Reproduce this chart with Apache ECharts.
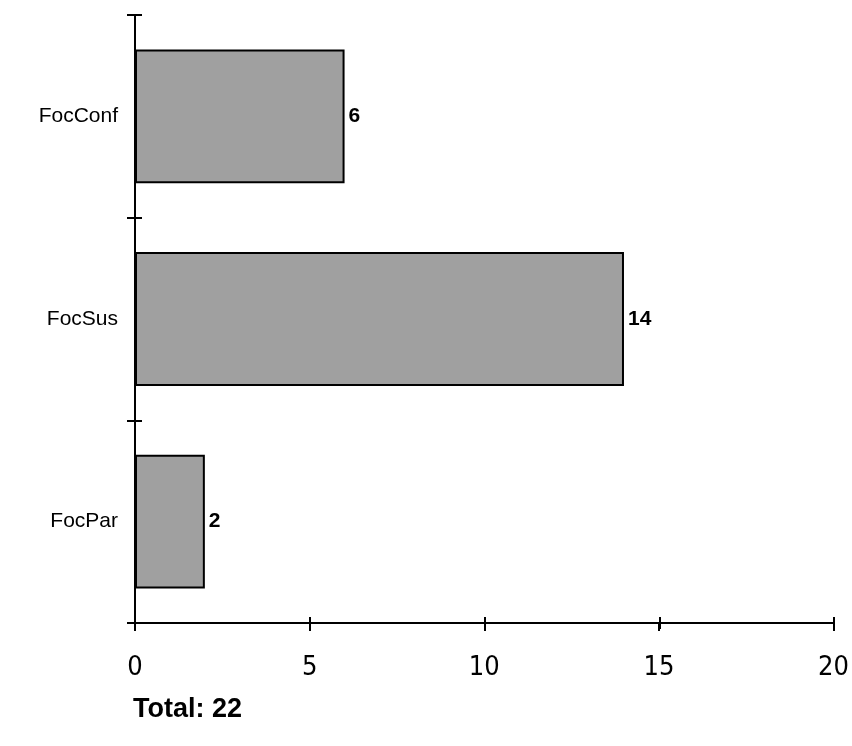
<!DOCTYPE html>
<html><head><meta charset="utf-8">
<script src="https://cdn.jsdelivr.net/npm/echarts@6/dist/echarts.min.js"></script>
<style>html,body{margin:0;padding:0;background:#fff}#c{width:852px;height:746px}</style>
</head><body><div id="c"></div>
<script>
const categories = ['FocConf', 'FocSus', 'FocPar'];
const values = [6, 14, 2];
const xTicks = [0, 5, 10, 15, 20];
const totalText = 'Total: 22';

const chart = echarts.init(document.getElementById('c'));
const G = { left: 135, right: 18, top: 15, bottom: 123 };
const xMin = xTicks[0], xMax = xTicks[xTicks.length - 1], xStep = xTicks[1] - xTicks[0];
const blackLine = { show: true, lineStyle: { color: '#000', width: 2 } };
const tickStyle = { color: '#000', width: 2 };
const hiddenX = (gi) => ({ gridIndex: gi, type: 'value', min: xMin, max: xMax, interval: xStep, show: false });
const hiddenY = (gi) => ({ gridIndex: gi, type: 'category', data: categories, inverse: true, show: false });
chart.setOption({
  animation: false,
  backgroundColor: '#fff',
  grid: [
    { left: G.left, right: G.right, top: G.top, bottom: G.bottom },
    { left: G.left + 7, right: G.right, top: G.top, bottom: G.bottom },
    { left: G.left, right: G.right, top: G.top, bottom: G.bottom + 6 }
  ],
  xAxis: [{
    gridIndex: 0, type: 'value', min: xMin, max: xMax, interval: xStep,
    axisLine: blackLine,
    axisTick: { show: true, length: 8, lineStyle: tickStyle },
    axisLabel: { margin: 31, color: '#000', fontSize: 27, fontFamily: '"DejaVu Sans Condensed", "Liberation Sans Narrow", "Liberation Sans"' },
    splitLine: { show: false }
  }, hiddenX(1), {
    gridIndex: 2, type: 'value', min: xMin, max: xMax, interval: xStep,
    axisLine: { show: false },
    axisTick: { show: true, length: 12, lineStyle: tickStyle },
    axisLabel: { show: false }, splitLine: { show: false }
  }],
  yAxis: [{
    gridIndex: 0, type: 'category', data: categories, inverse: true,
    axisLine: blackLine,
    axisTick: { show: true, length: 8, lineStyle: tickStyle },
    axisLabel: { margin: 17, color: '#000', fontSize: 21, fontFamily: '"Liberation Sans", Arial' },
    splitLine: { show: false }
  }, {
    gridIndex: 1, type: 'category', data: categories, inverse: true,
    axisLine: { show: false },
    axisTick: { show: true, length: 14, lineStyle: tickStyle },
    axisLabel: { show: false }, splitLine: { show: false }
  }, hiddenY(2)],
  series: [{
    type: 'bar', xAxisIndex: 0, yAxisIndex: 0, data: values, barCategoryGap: '34%',
    itemStyle: { color: '#a0a0a0', borderColor: '#000', borderWidth: 2 },
    label: { show: true, position: 'right', distance: 4, color: '#000', fontWeight: 'bold', fontSize: 21, fontFamily: '"Liberation Sans", Arial' }
  }, {
    type: 'bar', xAxisIndex: 1, yAxisIndex: 1, data: [], silent: true
  }, {
    type: 'bar', xAxisIndex: 2, yAxisIndex: 2, data: [], silent: true
  }],
  graphic: [{
    type: 'text', left: 133, top: 696,
    style: { text: totalText, fill: '#000', font: 'bold 27px "Liberation Sans", Arial' }
  }]
});
</script></body></html>
